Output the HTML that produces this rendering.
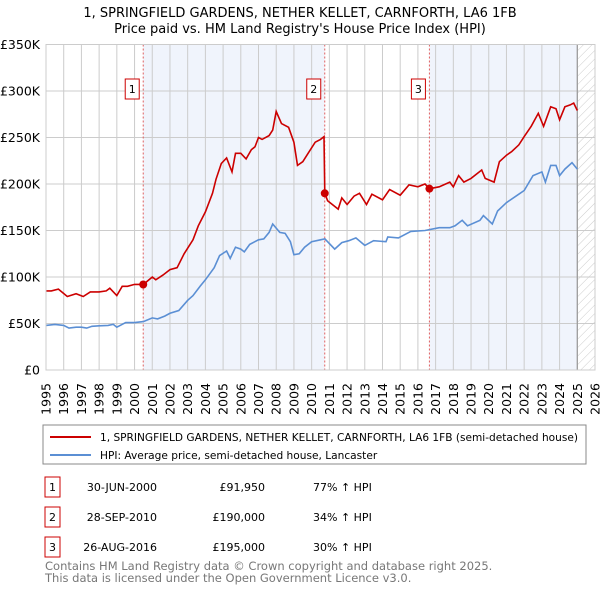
<!DOCTYPE html>
<html><head><meta charset="utf-8"><style>
body{margin:0;background:#fff;font-family:"Liberation Sans","DejaVu Sans",sans-serif;}
svg text{font-family:"DejaVu Sans","Liberation Sans",sans-serif;}
</style></head><body>
<svg id="c" width="600" height="590" viewBox="0 0 600 590" xmlns="http://www.w3.org/2000/svg">
<defs><pattern id="hatch" width="6" height="6" patternUnits="userSpaceOnUse" patternTransform="rotate(45)"><line x1="0" y1="0" x2="0" y2="6" stroke="#ccc" stroke-width="1"/></pattern></defs>
<text x="300" y="17" text-anchor="middle" font-size="13">1, SPRINGFIELD GARDENS, NETHER KELLET, CARNFORTH, LA6 1FB</text>
<text x="300" y="33" text-anchor="middle" font-size="13">Price paid vs. HM Land Registry's House Price Index (HPI)</text>
<g id="plot"></g>
<rect x="43" y="425" width="543" height="39" fill="#fff" stroke="#888"/>
<line x1="50" y1="437" x2="91" y2="437" stroke="#cc0000" stroke-width="2"/>
<text x="100" y="441" font-size="10.6" textLength="478" lengthAdjust="spacingAndGlyphs">1, SPRINGFIELD GARDENS, NETHER KELLET, CARNFORTH, LA6 1FB (semi-detached house)</text>
<line x1="50" y1="455" x2="91" y2="455" stroke="#5b8fd4" stroke-width="2"/>
<text x="100" y="459" font-size="10.6">HPI: Average price, semi-detached house, Lancaster</text>
<g font-size="11">
<rect x="45" y="477" width="15" height="20" fill="#fff" stroke="#cc0000"/><text x="52.5" y="491" text-anchor="middle">1</text>
<text x="157" y="491" text-anchor="end">30-JUN-2000</text><text x="265" y="491" text-anchor="end">£91,950</text><text x="313" y="491">77% ↑ HPI</text>
<rect x="45" y="507" width="15" height="20" fill="#fff" stroke="#cc0000"/><text x="52.5" y="521" text-anchor="middle">2</text>
<text x="157" y="521" text-anchor="end">28-SEP-2010</text><text x="265" y="521" text-anchor="end">£190,000</text><text x="313" y="521">34% ↑ HPI</text>
<rect x="45" y="537" width="15" height="20" fill="#fff" stroke="#cc0000"/><text x="52.5" y="551" text-anchor="middle">3</text>
<text x="157" y="551" text-anchor="end">26-AUG-2016</text><text x="265" y="551" text-anchor="end">£195,000</text><text x="313" y="551">30% ↑ HPI</text>
</g>
<text x="45" y="570" font-size="11.5" fill="#777">Contains HM Land Registry data © Crown copyright and database right 2025.</text>
<text x="45" y="582" font-size="11.5" fill="#777">This data is licensed under the Open Government Licence v3.0.</text>
</svg>
<script>
const hpiYears=[1995,1995.5,1996,1996.3,1996.7,1997,1997.3,1997.6,1998,1998.5,1998.8,1999,1999.5,2000,2000.5,2001,2001.3,2001.7,2002,2002.5,2003,2003.3,2003.7,2004,2004.5,2004.8,2005.2,2005.4,2005.7,2006,2006.2,2006.5,2007,2007.3,2007.6,2007.8,2008.2,2008.5,2008.8,2009,2009.3,2009.6,2010,2010.5,2010.75,2011.3,2011.7,2012.1,2012.5,2013,2013.5,2014.2,2014.3,2014.9,2015.6,2016.4,2017.2,2017.8,2018.1,2018.5,2018.8,2019.5,2019.7,2020.2,2020.5,2021,2021.7,2022,2022.5,2023,2023.2,2023.5,2023.8,2024,2024.3,2024.7,2025];
const hpiValues=[48,49,48,45,46,46,45,47,47.5,48,49,46,51,51,52,56,55,58,61,64,75,80,90,97,110,123,128,120,132,130,127,135,140,141,148,157,148,147,138,124,125,132,138,140,141,130,137,139,142,134,139,138,143,142,149,150,153,153,155,161,155,161,166,157,171,180,189,193,209,213,202,220,220,209,216,223,216];
const priceYears=[1995,1995.3,1995.7,1996.2,1996.7,1997.1,1997.5,1998,1998.4,1998.6,1999,1999.3,1999.6,2000,2000.5,2001,2001.2,2001.6,2002,2002.4,2002.8,2003.3,2003.6,2004,2004.4,2004.6,2004.9,2005.2,2005.5,2005.7,2006,2006.3,2006.6,2006.8,2007,2007.2,2007.6,2007.8,2008,2008.3,2008.7,2009,2009.2,2009.5,2009.8,2010.2,2010.5,2010.7,2010.74,2010.9,2011.5,2011.7,2012,2012.4,2012.7,2013.1,2013.4,2014,2014.4,2015,2015.5,2016,2016.4,2016.65,2017.2,2017.8,2018,2018.3,2018.6,2019,2019.6,2019.8,2020.3,2020.6,2021,2021.3,2021.7,2022,2022.4,2022.8,2023.1,2023.5,2023.8,2024,2024.3,2024.6,2024.8,2025];
const priceValues=[85,85,87,79,82,79,84,84,85,88,80,90,90,92,92,100,97,102,108,110,125,140,155,170,190,205,222,228,213,233,233,227,237,240,250,248,252,258,278,265,261,245,220,224,233,245,248,251,190,182,173,185,178,187,190,178,189,183,194,188,199,197,200,195,197,202,197,209,202,206,215,206,202,224,231,235,242,251,262,276,262,283,281,269,283,285,287,279];
const saleYears=[2000.49,2010.74,2016.65];
const salePrices=[91.95,190,195];
const saleLabels=["1","2","3"];
const yTicks=[0,50,100,150,200,250,300,350];
const yTickLabels=["£0","£50K","£100K","£150K","£200K","£250K","£300K","£350K"];
const xTicks=[];for(let y=1995;y<=2026;y++)xTicks.push(y);

const X0=46,X1=595,Y0=370,Y1=44.5;
const xs=y=>X0+(y-1995)/(2026-1995)*(X1-X0);
const ys=v=>Y0-v/350*(Y0-Y1);
const NS="http://www.w3.org/2000/svg";
const g=document.getElementById('plot');
function mk(t,a,p){const e=document.createElementNS(NS,t);for(const k in a)e.setAttribute(k,a[k]);(p||g).appendChild(e);return e;}
let r;
r=mk('rect',{x:xs(saleYears[0]),y:Y1,width:xs(saleYears[1])-xs(saleYears[0]),height:Y0-Y1,fill:'#f0f4fc'});


r=mk('rect',{x:xs(saleYears[2]),y:Y1,width:xs(2025)-xs(saleYears[2]),height:Y0-Y1,fill:'#f0f4fc'});


r=mk('rect',{x:xs(2025),y:Y1,width:X1-xs(2025),height:Y0-Y1,fill:'url(#hatch)'});


xTicks.forEach((y,i)=>{
 const l=mk('line',{x1:xs(y),x2:xs(y),y1:Y1,y2:Y0,stroke:'#cccccc','stroke-width':1});
 
 
 const t=mk('text',{x:0,y:0,'font-size':12.5,'text-anchor':'end',transform:`translate(${xs(y)+4.5},383) rotate(-90)`});
 t.textContent=y;
 
 
});
yTicks.forEach((v,i)=>{
 const l=mk('line',{x1:X0,x2:X1,y1:ys(v),y2:ys(v),stroke:'#cccccc','stroke-width':1});
 
 
 const t=mk('text',{x:40,y:ys(v)+4.5,'font-size':12.5,'text-anchor':'end'});
 t.textContent=yTickLabels[i];
 
 
});
r=mk('line',{x1:xs(2025),x2:xs(2025),y1:Y1,y2:Y0,stroke:'#999','stroke-width':1.2});


saleYears.forEach((y,i)=>{
 const l=mk('line',{x1:xs(y),x2:xs(y),y1:Y1,y2:Y0,stroke:'#e06060','stroke-width':1,'stroke-dasharray':'2,2'});
 
 
 const b=mk('rect',{x:xs(y)-18,y:79,width:14,height:20,fill:'#fff',stroke:'#cc0000'});
 
 
 const t=mk('text',{x:xs(y)-11,y:93,'font-size':11,'text-anchor':'middle'});
 t.textContent=saleLabels[i];
 
 
});
const pts=(xa,va)=>xa.map((y,i)=>xs(y).toFixed(1)+','+ys(va[i]).toFixed(1)).join(' ');
r=mk('polyline',{points:pts(hpiYears,hpiValues),fill:'none',stroke:'#5b8fd4','stroke-width':1.6});


r=mk('polyline',{points:pts(priceYears,priceValues),fill:'none',stroke:'#cc0000','stroke-width':1.6});


saleYears.forEach((y,i)=>{
 const c=mk('circle',{cx:xs(y),cy:ys(salePrices[i]),r:4,fill:'#cc0000'});
 
 
});
r=mk('rect',{x:X0,y:Y1,width:X1-X0,height:Y0-Y1,fill:'none',stroke:'#cccccc'});


</script>
</body></html>
